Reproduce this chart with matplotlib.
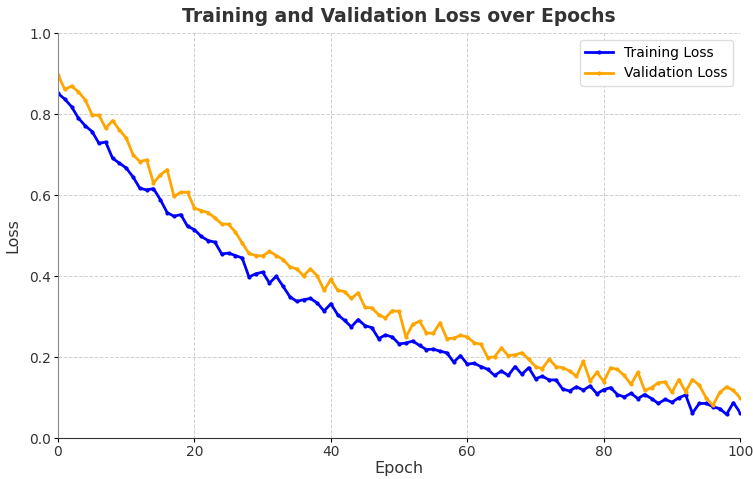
import numpy as np
import matplotlib.pyplot as plt

# EPOCHS
epochs = np.arange(0, 101)

# LOSS VALUES
train_loss = [
    0.851, 0.837, 0.818, 0.790, 0.771, 0.757, 0.728, 0.731, 0.691, 0.679,
    0.667, 0.645, 0.617, 0.613, 0.616, 0.589, 0.557, 0.548, 0.552, 0.523,
    0.515, 0.498, 0.488, 0.484, 0.455, 0.457, 0.451, 0.445, 0.398, 0.406,
    0.410, 0.383, 0.400, 0.375, 0.349, 0.338, 0.342, 0.345, 0.334, 0.314,
    0.332, 0.305, 0.291, 0.275, 0.293, 0.278, 0.273, 0.246, 0.255, 0.250,
    0.233, 0.235, 0.240, 0.229, 0.219, 0.220, 0.215, 0.211, 0.188, 0.204,
    0.183, 0.185, 0.177, 0.170, 0.155, 0.166, 0.155, 0.177, 0.158, 0.174,
    0.147, 0.153, 0.144, 0.144, 0.121, 0.117, 0.127, 0.119, 0.129, 0.110,
    0.120, 0.125, 0.108, 0.102, 0.111, 0.098, 0.108, 0.098, 0.086, 0.096,
    0.089, 0.100, 0.107, 0.062, 0.086, 0.086, 0.078, 0.073, 0.059, 0.088,
    0.063,
]

val_loss = [
    0.897, 0.861, 0.869, 0.855, 0.835, 0.798, 0.797, 0.765, 0.784, 0.761,
    0.741, 0.700, 0.683, 0.687, 0.630, 0.650, 0.663, 0.597, 0.607, 0.607,
    0.568, 0.562, 0.557, 0.544, 0.529, 0.528, 0.509, 0.482, 0.456, 0.451,
    0.450, 0.461, 0.451, 0.441, 0.423, 0.418, 0.401, 0.418, 0.401, 0.365,
    0.392, 0.365, 0.362, 0.345, 0.359, 0.323, 0.322, 0.305, 0.297, 0.315,
    0.313, 0.250, 0.281, 0.289, 0.260, 0.259, 0.285, 0.246, 0.247, 0.254,
    0.250, 0.236, 0.232, 0.199, 0.201, 0.223, 0.204, 0.206, 0.211, 0.195,
    0.177, 0.172, 0.195, 0.177, 0.174, 0.166, 0.153, 0.190, 0.141, 0.163,
    0.140, 0.174, 0.170, 0.155, 0.133, 0.163, 0.118, 0.125, 0.137, 0.139,
    0.113, 0.145, 0.115, 0.145, 0.131, 0.100, 0.081, 0.113, 0.127, 0.118,
    0.100,
]

# PLOT
fig, ax = plt.subplots(figsize=(7.53, 4.79), dpi=100)
fig.subplots_adjust(left=0.077, right=0.983, top=0.931, bottom=0.085)

ax.plot(
    epochs,
    train_loss,
    color="blue",
    linewidth=2,
    marker=".",
    markersize=4,
    label="Training Loss"
)

ax.plot(
    epochs,
    val_loss,
    color="orange",
    linewidth=2,
    marker=".",
    markersize=4,
    label="Validation Loss"
)

ax.set_xlim(0, 100)
ax.set_ylim(0, 1.0)

ax.set_title(
    "Training and Validation Loss over Epochs",
    fontsize=13.5,
    fontweight="bold",
    color="#333333",
    pad=8
)
ax.set_xlabel("Epoch", fontsize=11.5, color="#333333", labelpad=1)
ax.set_ylabel("Loss", fontsize=11.5, color="#333333", labelpad=6)

ax.grid(True, linestyle="--", color="#d0d0d0", linewidth=0.7)

for side in ["top", "right"]:
    ax.spines[side].set_visible(False)
ax.spines["left"].set_color("#888888")
ax.spines["bottom"].set_color("#333333")

ax.tick_params(labelsize=10, labelcolor="#333333", length=3, pad=2)

ax.legend(loc="upper right", fontsize=10, framealpha=1, edgecolor="#dddddd")

plt.savefig("out.png", dpi=100)
